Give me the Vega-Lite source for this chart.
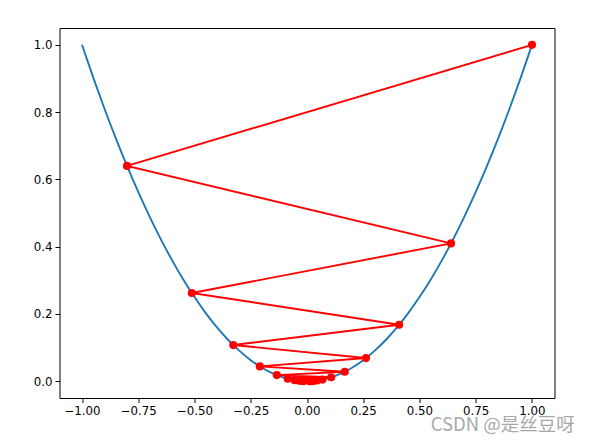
{
  "$schema": "https://vega.github.io/schema/vega-lite/v6.json",
  "width": 495,
  "height": 370,
  "autosize": {"type": "none"},
  "padding": {"left": 59.5, "top": 28, "right": 37.5, "bottom": 46},
  "background": "white",
  "config": {
    "view": {"stroke": "black", "strokeWidth": 1},
    "axis": {
      "grid": false, "domain": false, "tickColor": "black", "tickSize": 4.5, "tickWidth": 1,
      "labelColor": "black", "labelFont": "DejaVu Sans", "labelFontSize": 11.8, "labelPadding": 3, "title": null
    }
  },
  "datasets": {
    "curve": [
      {"x": -1.0, "y": 1.0}, {"x": -0.95, "y": 0.9025}, {"x": -0.9, "y": 0.81}, {"x": -0.85, "y": 0.7225},
      {"x": -0.8, "y": 0.64}, {"x": -0.75, "y": 0.5625}, {"x": -0.7, "y": 0.49}, {"x": -0.65, "y": 0.4225},
      {"x": -0.6, "y": 0.36}, {"x": -0.55, "y": 0.3025}, {"x": -0.5, "y": 0.25}, {"x": -0.45, "y": 0.2025},
      {"x": -0.4, "y": 0.16}, {"x": -0.35, "y": 0.1225}, {"x": -0.3, "y": 0.09}, {"x": -0.25, "y": 0.0625},
      {"x": -0.2, "y": 0.04}, {"x": -0.15, "y": 0.0225}, {"x": -0.1, "y": 0.01}, {"x": -0.05, "y": 0.0025},
      {"x": 0.0, "y": 0.0}, {"x": 0.05, "y": 0.0025}, {"x": 0.1, "y": 0.01}, {"x": 0.15, "y": 0.0225},
      {"x": 0.2, "y": 0.04}, {"x": 0.25, "y": 0.0625}, {"x": 0.3, "y": 0.09}, {"x": 0.35, "y": 0.1225},
      {"x": 0.4, "y": 0.16}, {"x": 0.45, "y": 0.2025}, {"x": 0.5, "y": 0.25}, {"x": 0.55, "y": 0.3025},
      {"x": 0.6, "y": 0.36}, {"x": 0.65, "y": 0.4225}, {"x": 0.7, "y": 0.49}, {"x": 0.75, "y": 0.5625},
      {"x": 0.8, "y": 0.64}, {"x": 0.85, "y": 0.7225}, {"x": 0.9, "y": 0.81}, {"x": 0.95, "y": 0.9025},
      {"x": 1.0, "y": 1.0}
    ],
    "steps": [
      {"i": 0, "x": 1.0, "y": 1.0},
      {"i": 1, "x": -0.8, "y": 0.64},
      {"i": 2, "x": 0.64, "y": 0.4096},
      {"i": 3, "x": -0.512, "y": 0.262144},
      {"i": 4, "x": 0.4096, "y": 0.16777216},
      {"i": 5, "x": -0.32768, "y": 0.1073741824},
      {"i": 6, "x": 0.262144, "y": 0.068719476736},
      {"i": 7, "x": -0.2097152, "y": 0.0439804651},
      {"i": 8, "x": 0.16777216, "y": 0.0281474977},
      {"i": 9, "x": -0.134217728, "y": 0.0180143985},
      {"i": 10, "x": 0.1073741824, "y": 0.011529215},
      {"i": 11, "x": -0.0858993459, "y": 0.0073786976},
      {"i": 12, "x": 0.0687194767, "y": 0.0047223665},
      {"i": 13, "x": -0.0549755814, "y": 0.0030223145},
      {"i": 14, "x": 0.0439804651, "y": 0.0019342813},
      {"i": 15, "x": -0.0351843721, "y": 0.00123794},
      {"i": 16, "x": 0.0281474977, "y": 0.0007922816},
      {"i": 17, "x": -0.0225179981, "y": 0.0005070602},
      {"i": 18, "x": 0.0180143985, "y": 0.0003245186},
      {"i": 19, "x": -0.0144115188, "y": 0.0002076919},
      {"i": 20, "x": 0.011529215, "y": 0.0001329228}
    ],
    "mark": [{"x": 1.19, "y": -0.131, "label": "CSDN @是丝豆呀"}]
  },
  "encoding": {
    "x": {"field": "x", "type": "quantitative", "scale": {"domain": [-1.1, 1.1], "nice": false, "zero": false},
      "axis": {"values": [-1, -0.75, -0.5, -0.25, 0, 0.25, 0.5, 0.75, 1], "format": ".2f"}},
    "y": {"field": "y", "type": "quantitative", "scale": {"domain": [-0.05, 1.05], "nice": false, "zero": false},
      "axis": {"values": [0, 0.2, 0.4, 0.6, 0.8, 1.0], "format": ".1f"}}
  },
  "layer": [
    {"data": {"name": "curve"}, "mark": {"type": "line", "color": "#1f77b4", "strokeWidth": 1.9, "interpolate": "monotone"},
      "encoding": {}},
    {"data": {"name": "steps"}, "mark": {"type": "line", "color": "#ff0000", "strokeWidth": 1.9},
      "encoding": {"order": {"field": "i", "type": "quantitative"}}},
    {"data": {"name": "steps"}, "mark": {"type": "point", "filled": true, "color": "#ff0000", "opacity": 1, "size": 66}},
    {"data": {"name": "mark"}, "mark": {"type": "text", "clip": false, "align": "right", "baseline": "middle",
      "font": "Noto Sans CJK SC", "fontSize": 18.5, "color": "#a8a8a8"},
      "encoding": {"text": {"field": "label"}}}
  ]
}
